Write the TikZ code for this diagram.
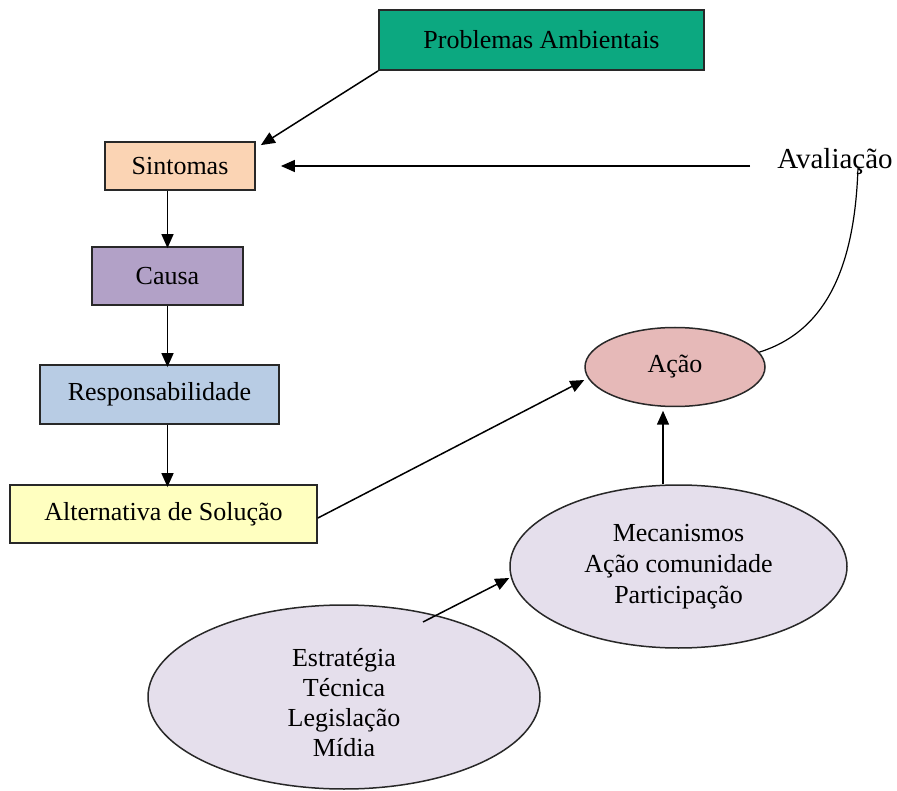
\documentclass[tikz,border=0pt]{standalone}
\usepackage{fontspec}
\setmainfont{Liberation Serif}
\usetikzlibrary{shapes.geometric,arrows.meta}
\definecolor{cgreen}{RGB}{12,168,128}
\definecolor{cpeach}{RGB}{251,212,180}
\definecolor{cpurple}{RGB}{178,161,199}
\definecolor{cblue}{RGB}{184,204,228}
\definecolor{cyellow}{RGB}{255,255,192}
\definecolor{cpink}{RGB}{230,185,184}
\definecolor{clav}{RGB}{229,223,236}
\definecolor{cborder}{RGB}{40,40,40}
\begin{document}
\begin{tikzpicture}[x=1pt,y=-1pt,
  txt/.style={font=\fontsize{26}{31}\selectfont, text=black},
  boxnode/.style={txt, draw=cborder, line width=1.8pt, rectangle, inner sep=0pt, align=center},
  ellnode/.style={txt, draw=cborder, line width=1.5pt, ellipse, inner sep=0pt, align=center},
  arr/.style={-{Triangle[length=14pt,width=12pt]}, line width=1.5pt, black}]
\useasboundingbox (0,0) rectangle (897,791);
\node[boxnode, fill=cgreen, minimum width=325pt, minimum height=60pt] (prob) at (541.5,40) {Problemas Ambientais};
\node[boxnode, fill=cpeach, minimum width=150pt, minimum height=48pt] (sint) at (180,166) {Sintomas};
\node[boxnode, fill=cpurple, minimum width=151pt, minimum height=58pt] (causa) at (167.5,276) {Causa};
\node[boxnode, fill=cblue, minimum width=239pt, minimum height=59pt] (resp) at (159.5,394.5) {Responsabilidade};
\node[boxnode, fill=cyellow, minimum width=307pt, minimum height=58pt] (alt) at (163.5,514) {Alternativa de Solução};
\node[txt, font=\fontsize{29}{34}\selectfont, inner sep=0pt] (aval) at (835,162) {Avaliação};
\node[ellnode, fill=cpink, minimum width=180pt, minimum height=79pt] (acao) at (675,367) {Ação};
\node[ellnode, fill=clav, minimum width=337pt, minimum height=163pt] (mec) at (678.5,566.5) {Mecanismos\\Ação comunidade\\Participação};
\node[ellnode, fill=clav, minimum width=392pt, minimum height=184pt, font=\fontsize{26}{30}\selectfont] (estr) at (344,697) {\rule{0pt}{10pt}\\[-10pt]Estratégia\\Técnica\\Legislação\\Mídia};
\draw[arr] (prob.south west) -- ([xshift=5pt,yshift=-4pt]sint.north east);
\draw[arr] ([xshift=-27pt]aval.west |- sint.east) -- ([xshift=25pt]sint.east);
\draw[arr] (sint.south -| causa.north) -- ([yshift=-2pt]causa.north);
\draw[arr] (causa.south) -- ([yshift=-3pt]resp.north -| causa.south);
\draw[arr] (resp.south -| causa.south) -- ([yshift=-3pt]alt.north -| causa.south);
\draw[arr] ([yshift=-4pt]alt.east) -- ([yshift=-13pt]acao.west);
\draw[arr] ([xshift=-15.5pt]mec.north) -- ([xshift=-12pt,yshift=-3.5pt]acao.south);
\draw[arr] ([xshift=79pt,yshift=75pt]estr.center) -- ([yshift=-11.5pt]mec.west);
\draw[line width=1.2pt] (acao.10) .. controls (830,330) and (855,260) .. ([xshift=23pt,yshift=8pt]aval.south);
\end{tikzpicture}
\end{document}
